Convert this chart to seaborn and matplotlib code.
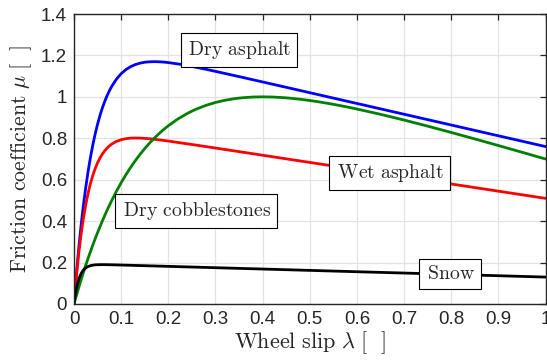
import numpy as np
import pandas as pd
import matplotlib
matplotlib.use("Agg")
import matplotlib.pyplot as plt
import seaborn as sns

# Wheel slip / friction coefficient samples per road surface
slip_dry = [0, 0.005, 0.01, 0.015, 0.02, 0.025, 0.03, 0.035, 0.04, 0.045,
            0.05, 0.055, 0.06, 0.065, 0.07, 0.075, 0.08, 0.09, 0.10, 0.11,
            0.12, 0.13, 0.14, 0.15, 0.16, 0.17, 0.18, 0.19, 0.20, 0.225,
            0.25, 0.275, 0.30, 0.35, 0.40, 0.45, 0.50, 0.60, 0.70, 0.80,
            0.90, 1.00]
mu_dry = [0, 0.1421, 0.2678, 0.3791, 0.4774, 0.5644, 0.6412, 0.7091, 0.7690, 0.8218,
          0.8683, 0.9094, 0.9454, 0.9771, 1.0050, 1.0293, 1.0507, 1.0855, 1.1119, 1.1315,
          1.1458, 1.1559, 1.1628, 1.1671, 1.1693, 1.1700, 1.1694, 1.1679, 1.1655, 1.1573,
          1.1469, 1.1354, 1.1231, 1.0978, 1.0720, 1.0461, 1.0201, 0.9681, 0.9161, 0.8641,
          0.8121, 0.7601]

slip_wet = [0, 0.005, 0.01, 0.015, 0.02, 0.025, 0.03, 0.035, 0.04, 0.045,
            0.05, 0.055, 0.06, 0.065, 0.07, 0.075, 0.08, 0.09, 0.10, 0.11,
            0.12, 0.13, 0.14, 0.15, 0.16, 0.17, 0.18, 0.19, 0.20,
            0.25, 0.30, 0.40, 0.50, 0.60, 0.70, 0.80, 0.90, 1.00]
mu_wet = [0, 0.1316, 0.2425, 0.3358, 0.4143, 0.4804, 0.5359, 0.5825, 0.6216, 0.6543,
          0.6817, 0.7045, 0.7235, 0.7393, 0.7524, 0.7632, 0.7720, 0.7849, 0.7932, 0.7981,
          0.8006, 0.8013, 0.8009, 0.7996, 0.7977, 0.7953, 0.7926, 0.7897, 0.7866,
          0.7701, 0.7529, 0.7182, 0.6835, 0.6488, 0.6141, 0.5794, 0.5447, 0.5100]

slip_cob = [0, 0.005, 0.01, 0.015, 0.02, 0.025, 0.03, 0.04, 0.05, 0.06,
            0.07, 0.08, 0.09, 0.10, 0.11, 0.12, 0.13, 0.14, 0.15, 0.16,
            0.17, 0.18, 0.19, 0.20, 0.22, 0.24, 0.25, 0.26, 0.28, 0.30,
            0.32, 0.34, 0.35, 0.36, 0.38, 0.40, 0.42, 0.44, 0.45, 0.46,
            0.48, 0.50, 0.52, 0.54, 0.55, 0.56, 0.58, 0.60, 0.65, 0.70,
            0.75, 0.80, 0.85, 0.90, 0.95, 1.00]
mu_cob = [0, 0.0402, 0.0791, 0.1165, 0.1527, 0.1877, 0.2214, 0.2854, 0.3449, 0.4003,
          0.4518, 0.4997, 0.5441, 0.5854, 0.6237, 0.6591, 0.6919, 0.7223, 0.7503, 0.7762,
          0.8000, 0.8219, 0.8420, 0.8605, 0.8928, 0.9195, 0.9310, 0.9414, 0.9590, 0.9729,
          0.9835, 0.9911, 0.9940, 0.9962, 0.9991, 1.0000, 0.9992, 0.9968, 0.9952, 0.9932,
          0.9883, 0.9824, 0.9756, 0.9680, 0.9639, 0.9597, 0.9508, 0.9413, 0.9158, 0.8880,
          0.8587, 0.8282, 0.7969, 0.7650, 0.7327, 0.7000]

slip_snow = [0, 0.0025, 0.005, 0.0075, 0.01, 0.0125, 0.015, 0.0175, 0.02, 0.0225,
             0.025, 0.0275, 0.03, 0.035, 0.04, 0.045, 0.05, 0.06, 0.07, 0.08,
             0.10, 0.20, 0.30, 0.40, 0.50, 0.60, 0.70, 0.80, 0.90, 1.00]
mu_snow = [0, 0.0406, 0.0727, 0.0981, 0.1180, 0.1338, 0.1462, 0.1560, 0.1637, 0.1697,
           0.1745, 0.1782, 0.1811, 0.1851, 0.1875, 0.1889, 0.1896, 0.1900, 0.1898, 0.1893,
           0.1881, 0.1817, 0.1752, 0.1688, 0.1623, 0.1558, 0.1494, 0.1429, 0.1365, 0.1300]

surfaces = ["Dry asphalt", "Wet asphalt", "Dry cobblestones", "Snow"]
colors = ["#0000ff", "#ff0000", "#008000", "#000000"]

# Positions (slip, mu) of each surface's name box
label_x = [0.350, 0.669, 0.259, 0.798]
label_y = [1.227, 0.633, 0.449, 0.145]

series = [(slip_dry, mu_dry), (slip_wet, mu_wet), (slip_cob, mu_cob), (slip_snow, mu_snow)]
df = pd.concat([
    pd.DataFrame({"slip": xs, "mu": ys, "surface": name})
    for name, (xs, ys) in zip(surfaces, series)
], ignore_index=True)

sns.set_theme(style="whitegrid")
plt.rcParams["mathtext.fontset"] = "cm"
plt.rcParams["font.family"] = ["Liberation Sans", "DejaVu Sans"]

fig = plt.figure(figsize=(5.47, 3.64), dpi=100)
ax = fig.add_axes([74 / 547, 60 / 364, 471.5 / 547, 290 / 364])
ax.set_facecolor("white")

sns.lineplot(data=df, x="slip", y="mu", hue="surface", hue_order=surfaces,
             palette=colors, linewidth=2.0, legend=False, sort=True,
             estimator=None, ax=ax)

ax.set_xlim(0, 1)
ax.set_ylim(0, 1.4)
ax.set_xticks(np.arange(0, 1.01, 0.1))
ax.set_xticklabels(["0", "0.1", "0.2", "0.3", "0.4", "0.5", "0.6", "0.7", "0.8", "0.9", "1"])
ax.set_yticks(np.arange(0, 1.41, 0.2))
ax.set_yticklabels(["0", "0.2", "0.4", "0.6", "0.8", "1", "1.2", "1.4"])

ax.grid(True, color="#e3e3e3", linewidth=0.9)
for s in ax.spines.values():
    s.set_visible(True)
    s.set_color("#262626")
    s.set_linewidth(1.0)
ax.tick_params(axis="both", which="both", direction="in", length=4.5, width=0.9,
               color="#262626", top=True, right=True, labelsize=13.5,
               labelcolor="#262626", pad=5)

ax.set_xlabel(r"$\mathrm{Wheel\ slip}\ \lambda\ [\ \ ]$", fontsize=16, color="#262626", labelpad=1)
ax.set_ylabel(r"$\mathrm{Friction\ coefficient}\ \mu\ [\ \ ]$", fontsize=15.7, color="#262626", labelpad=5)

for name, x, y in zip(surfaces, label_x, label_y):
    ax.text(x, y, r"$\,\mathrm{" + name.replace(" ", r"\ ") + r"}\;\;$", fontsize=14.2,
            ha="center", va="center", zorder=5,
            bbox=dict(boxstyle="square,pad=0.3", facecolor="white",
                      edgecolor="black", linewidth=0.8))

fig.savefig("out.png", dpi=100)
